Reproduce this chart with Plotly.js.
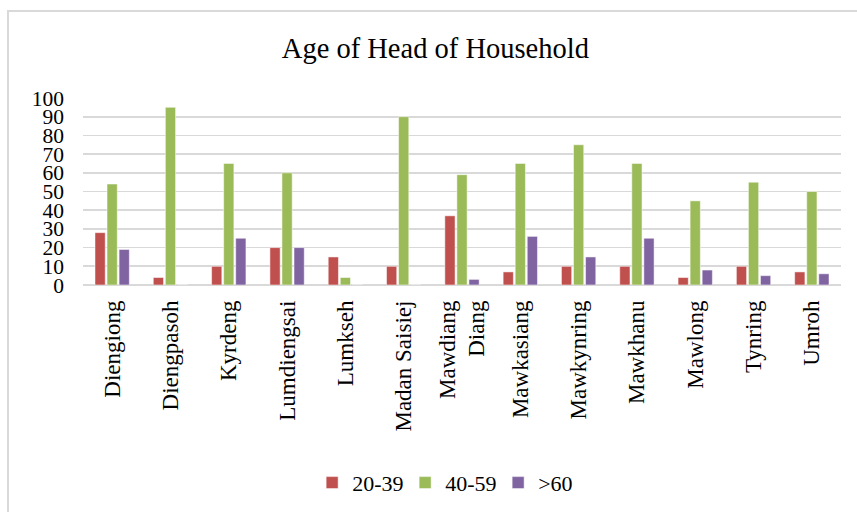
<!DOCTYPE html>
<html>
<head>
<meta charset="utf-8">
<script src="https://cdn.plot.ly/plotly-3.0.1.min.js"></script>
<style>
  html, body { margin: 0; padding: 0; background: #fff; overflow: hidden; }
  #chart { width: 857px; height: 512px; position: absolute; left: 0; top: 0; }
  #frame { position: absolute; left: 7px; top: 10px; width: 900px; height: 600px;
           border-left: 2px solid #d9d9d9; border-top: 2px solid #d9d9d9; pointer-events: none; }
</style>
</head>
<body>
<div id="chart"></div>
<div id="frame"></div>
<script>
const categories = ["Diengiong", "Diengpasoh", "Kyrdeng", "Lumdiengsai", "Lumkseh", "Madan Saisiej",
  "Mawdiang<br>Diang", "Mawkasiang", "Mawkynring", "Mawkhanu", "Mawlong", "Tynring", "Umroh"];
const seriesNames = ["20-39", "40-59", ">60"];
const age20to39 = [28, 4, 10, 20, 15, 10, 37, 7, 10, 10, 4, 10, 7];
const age40to59 = [54, 95, 65, 60, 4, 90, 59, 65, 75, 65, 45, 55, 50];
const age60plus = [19, 0, 25, 20, 0, 0, 3, 26, 15, 25, 8, 5, 6];
const yTicks = [0, 10, 20, 30, 40, 50, 60, 70, 80, 90, 100];

const colors = ["#c0504d", "#9bbb59", "#8064a2"];
const values = [age20to39, age40to59, age60plus];
const font = "Liberation Serif, Times New Roman, serif";

const traces = values.map((v, i) => ({
  type: "bar",
  name: seriesNames[i],
  x: categories,
  y: v,
  marker: { color: colors[i], line: { color: "rgba(255,255,255,0.5)", width: 1 } },
  hoverinfo: "x+y+name"
}));

const layout = {
  width: 857, height: 512,
  margin: { l: 83, r: 16, t: 98, b: 227 },
  paper_bgcolor: "#ffffff", plot_bgcolor: "#ffffff",
  font: { family: font, color: "#000000", size: 22 },
  title: {
    text: "Age of Head of Household",
    font: { family: font, size: 28.5, color: "#000000" },
    x: 0.508, xref: "container", xanchor: "center",
    y: 0.906, yref: "container", yanchor: "middle"
  },
  barmode: "group",
  bargap: 0.38,
  bargroupgap: 0.15,
  xaxis: {
    type: "category",
    tickangle: -90,
    tickfont: { family: font, size: 23, color: "#000000" },
    showgrid: false,
    showline: false,
    zeroline: false,
    ticks: "",
    ticklabelstandoff: 10
  },
  yaxis: {
    range: [0, 100],
    tickmode: "array",
    tickvals: yTicks,
    ticktext: yTicks.map(String),
    tickfont: { family: font, size: 21.5, color: "#000000" },
    showgrid: true,
    gridcolor: "#d9d9d9",
    gridwidth: 1.6,
    zeroline: true,
    zerolinecolor: "#d9d9d9",
    zerolinewidth: 1.6,
    showline: false,
    ticks: "",
    ticklabelstandoff: 18
  },
  showlegend: true,
  legend: {
    orientation: "h",
    x: 0.527, xref: "container", xanchor: "center",
    y: 0.057, yref: "container", yanchor: "middle",
    font: { family: font, size: 22, color: "#000000" },
    itemwidth: 30,
    entrywidth: 48,
    traceorder: "normal"
  }
};

Plotly.newPlot("chart", traces, layout, { displayModeBar: false, staticPlot: true });
</script>
</body>
</html>
